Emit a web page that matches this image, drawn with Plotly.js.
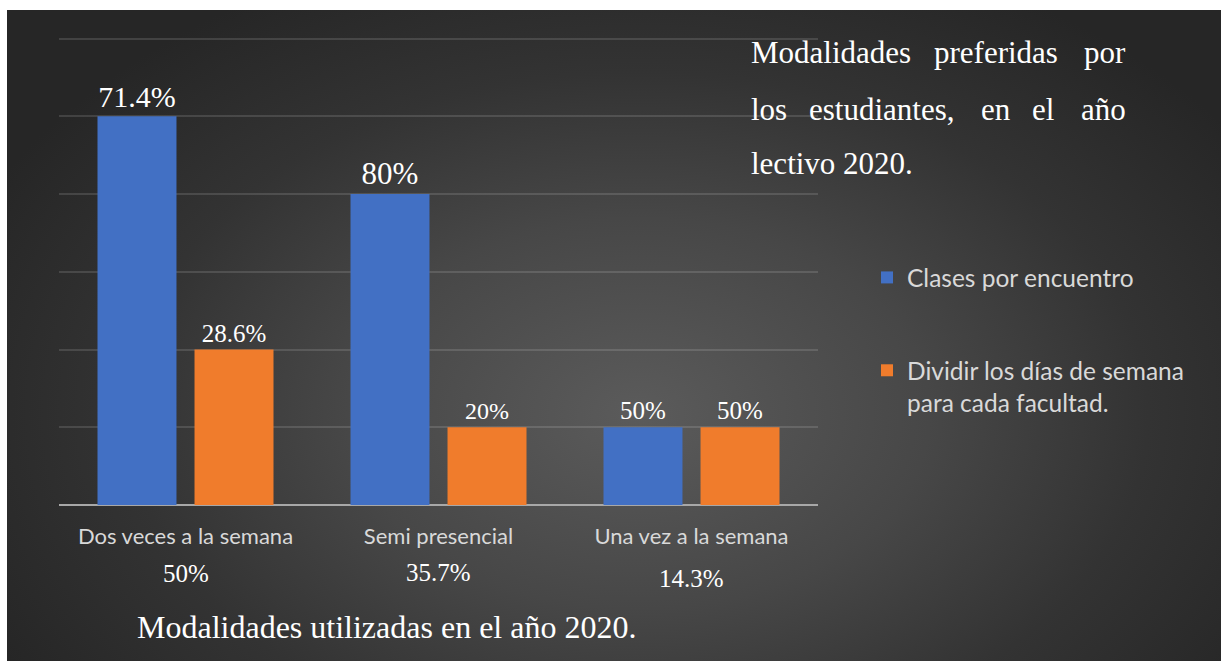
<!DOCTYPE html>
<html>
<head>
<meta charset="utf-8">
<script src="https://cdn.plot.ly/plotly-3.0.1.min.js"></script>
<style>
  html, body { margin:0; padding:0; background:#ffffff; width:1221px; height:661px; overflow:hidden; }
  #bg { position:absolute; left:7px; top:10px; width:1214px; height:651px;
        background: radial-gradient(ellipse 60% 75% at 52% 62%, #5b5b5b 0%, #474747 40%, #333333 70%, #262626 100%); }
  #chart { position:absolute; left:0; top:0; width:1221px; height:661px; }
</style>
</head>
<body>
<div id="bg"></div>
<div id="chart"></div>
<script>
const categories = ["Dos veces a la semana", "Semi presencial", "Una vez a la semana"];
const categoryShares = ["50%", "35.7%", "14.3%"];
const seriesNames = ["Clases por encuentro", "Dividir los días de semana<br>para cada facultad."];
const clasesValues = [5, 4, 1];
const clasesLabels = ["71.4%", "80%", "50%"];
const dividirValues = [2, 1, 1];
const dividirLabels = ["28.6%", "20%", "50%"];
const titleLines = [
  ["Modalidades", "preferidas", "por"],
  ["los", "estudiantes,", "en", "el", "año"],
  ["lectivo 2020."]
];
const bottomTitle = "Modalidades utilizadas en el año 2020.";

const serif = "Liberation Serif, Times New Roman, serif";
const sans = "Lato, Carlito, Noto Sans, sans-serif";

const W = 1221, H = 661;
const M = {l:59, r:403, t:37, b:156};
const plotW = W - M.l - M.r, plotH = H - M.t - M.b;

const traces = [
  { type:"bar", name:seriesNames[0], x:categories, y:clasesValues, text:clasesLabels,
    legendgroup:"a", textposition:"outside", cliponaxis:false, constraintext:"none",
    textfont:{family:serif, size:[30, 31, 25], color:"#ffffff"},
    marker:{color:"#4270c4"}, hoverinfo:"none" },
  { type:"bar", name:seriesNames[1], x:categories, y:dividirValues, text:dividirLabels,
    legendgroup:"b", textposition:"outside", cliponaxis:false, constraintext:"none",
    textfont:{family:serif, size:[25, 24, 25], color:"#ffffff"},
    marker:{color:"#f07c2c"}, hoverinfo:"none" }
];

const annotations = [];
const shareShift = [-68, -67, -73];
categories.forEach((c, i) => {
  annotations.push({ x:c, y:0, xref:"x", yref:"y", text:categoryShares[i], showarrow:false,
    yshift: shareShift[i], font:{family:serif, size:25, color:"#ffffff"} });
});

// helper: container px -> paper fraction
function px2paper(px, py) {
  return { x:(px - M.l) / plotW, y: 1 - (py - M.t) / plotH };
}
// justified title lines (word positions in container px)
const wordX = [
  [749, 932, 1128],
  [749, 807, 979, 1030, 1128]
];
const lineY = [52, 109, 164];
titleLines.forEach((words, li) => {
  words.forEach((w, wi) => {
    const x = li < 2 ? wordX[li][wi] : 749;
    const anchor = (li < 2 && wi === words.length - 1) ? "right" : "left";
    const p = px2paper(x, lineY[li]);
    annotations.push({ x:p.x, y:p.y, xref:"paper", yref:"paper",
      text:w, showarrow:false, xanchor:anchor, yanchor:"middle",
      font:{family:serif, size:31, color:"#ffffff"} });
  });
});
const bt = px2paper(386, 627);
annotations.push({ x:bt.x, y:bt.y, xref:"paper", yref:"paper", text:bottomTitle,
  showarrow:false, xanchor:"center", yanchor:"middle", font:{family:serif, size:32, color:"#ffffff"} });

const layout = {
  width:W, height:H,
  paper_bgcolor:"rgba(0,0,0,0)", plot_bgcolor:"rgba(0,0,0,0)",
  margin:M,
  barmode:"group", bargap:0.233, bargroupgap:0.186,
  showlegend:true,
  legend:{ x:867/W, xref:"container", y:1 - 255/H, yref:"container", yanchor:"top", xanchor:"left",
    font:{family:sans, size:24.5, color:"#d9d9d9"}, tracegroupgap:58, traceorder:"grouped",
    valign:"top", bgcolor:"rgba(0,0,0,0)", itemwidth:30 },
  xaxis:{ type:"category", showgrid:false, showline:false, zeroline:false,
    ticks:"outside", ticklen:12, tickcolor:"rgba(0,0,0,0)",
    tickfont:{family:sans, size:22, color:"#d9d9d9"} },
  yaxis:{ range:[0,6.02], tickvals:[0,1,2,3,4,5,6], showticklabels:false, showgrid:true,
    gridcolor:"rgba(255,255,255,0.13)", gridwidth:2,
    zeroline:true, zerolinecolor:"#a8a8a8", zerolinewidth:2.5, fixedrange:true },
  annotations: annotations
};

Plotly.newPlot("chart", traces, layout, {displayModeBar:false, staticPlot:true});
</script>
</body>
</html>
